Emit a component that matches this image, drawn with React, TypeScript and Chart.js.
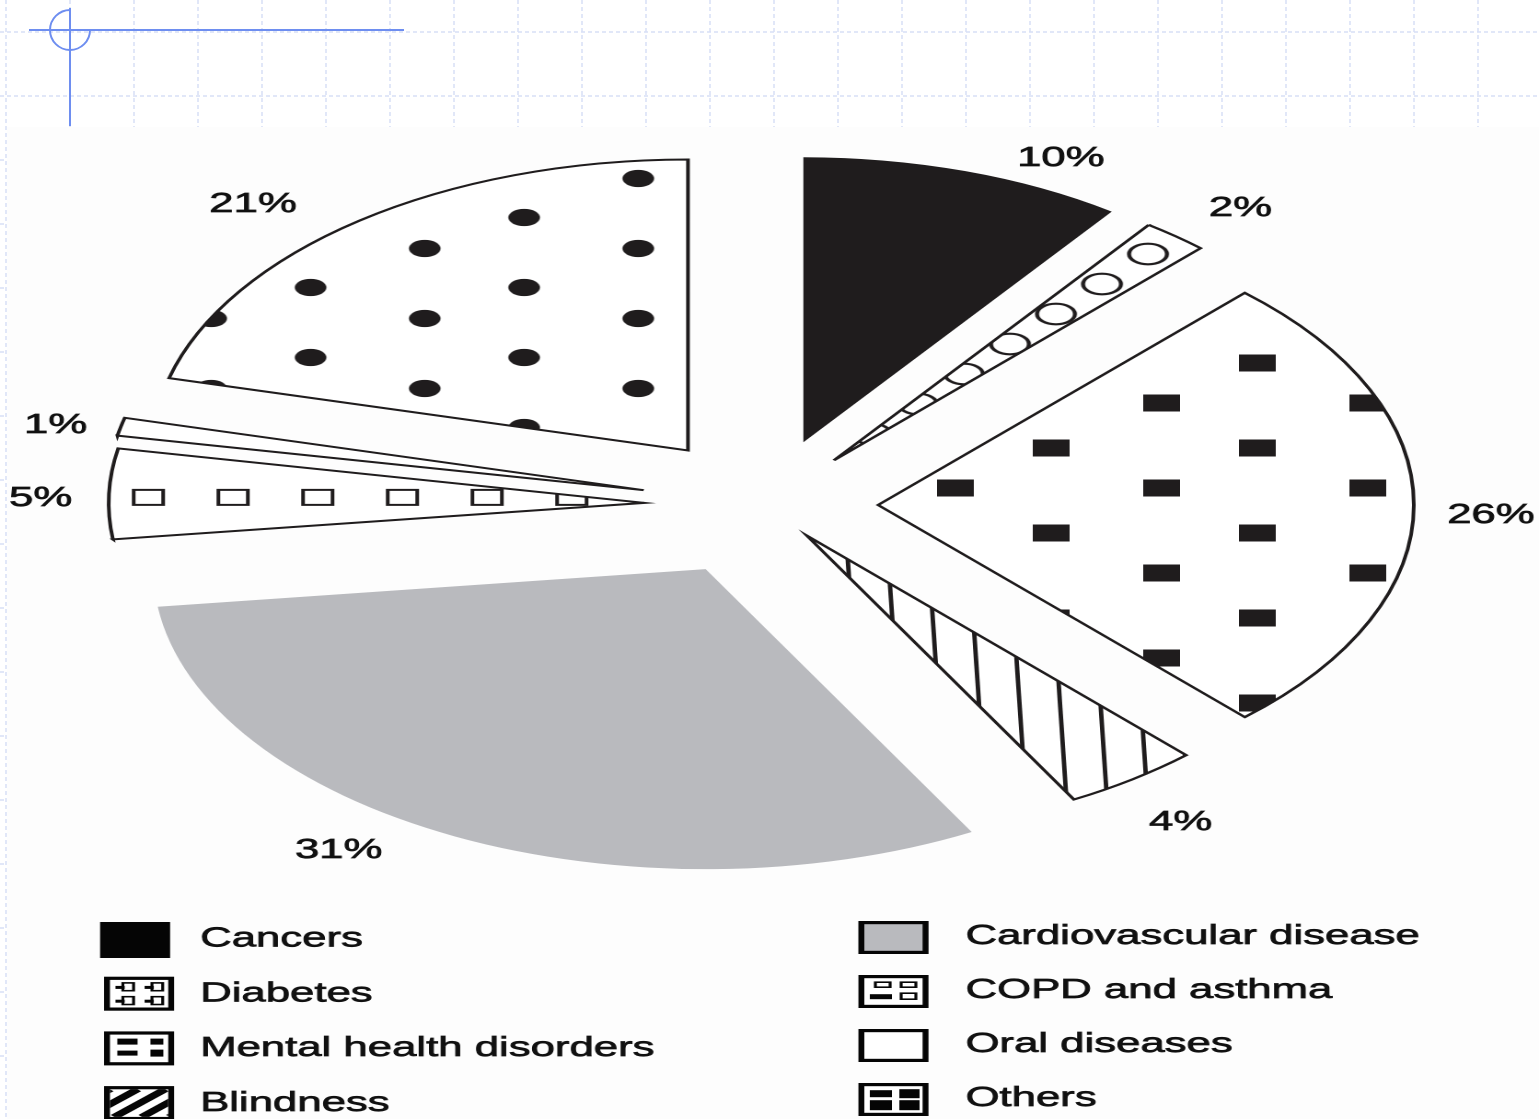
import React, { useEffect, useRef } from 'react';
import { Chart, registerables } from 'chart.js';

Chart.register(...registerables);

// ---------------- data ----------------
const CATEGORIES = [
  'Cancers',
  'Diabetes',
  'Mental health disorders',
  'Blindness',
  'Cardiovascular disease',
  'COPD and asthma',
  'Oral diseases',
  'Others',
];
const SHARES = [10, 2, 26, 4, 31, 5, 1, 21];
const LEGEND_LEFT = ['Cancers', 'Diabetes', 'Mental health disorders', 'Blindness'];
const LEGEND_RIGHT = ['Cardiovascular disease', 'COPD and asthma', 'Oral diseases', 'Others'];

// ---------------- layout / style ----------------
const PAGE_W = 1539;
const PAGE_H = 1119;
const STRETCH = 1.84; // the picture is stretched horizontally
const CANVAS_W = Math.round(PAGE_W / STRETCH);
const DPR = 2;
const RADIUS = 291;
const RADIUS_ADJ = [-6, 0, 0, 10, 9, 0, 0, 0];
const EXPLODE = [66, 58, 61, 38, 72, 66, 68, 69];
const LABEL_NUDGE = [6.8, 1.4, 1.5, 0.6, 6.9, -0.8, -0.9, -5];
const LABEL_DIST = [382, 393, 394, 389, 416, 394, 394, 410];
const FONT = "'Liberation Sans', Arial, sans-serif";
const TEXT_SQUEEZE = 0.848;
const INK = '#1f1c1d';
const GRAY = '#b9babe';

type Ctx = CanvasRenderingContext2D;

function makeTile(w: number, h: number, paint: (g: Ctx) => void) {
  const c = document.createElement('canvas');
  c.width = Math.round(w * DPR);
  c.height = Math.round(h * DPR);
  const g = c.getContext('2d') as Ctx;
  g.scale(DPR, DPR);
  g.fillStyle = '#ffffff';
  g.fillRect(0, 0, w, h);
  g.fillStyle = INK;
  g.strokeStyle = INK;
  paint(g);
  return c;
}

function circle(g: Ctx, x: number, y: number, r: number, fill: boolean) {
  g.beginPath();
  g.arc(x, y, r, 0, Math.PI * 2);
  if (fill) g.fill();
  else g.stroke();
}

function makePatterns(ctx: Ctx) {
  const toPat = (c: HTMLCanvasElement) => {
    const p = ctx.createPattern(c, 'repeat') as CanvasPattern;
    p.setTransform(new DOMMatrix([1 / DPR, 0, 0, 1 / DPR, 0, 0]));
    return p;
  };
  const mental = toPat(
    makeTile(112, 85, (g) => {
      g.fillRect(2, 2, 20, 17);
      g.fillRect(54, 47, 20, 17);
    })
  );
  const others = toPat(
    makeTile(116, 70, (g) => {
      circle(g, 10, 10, 8.6, true);
      circle(g, 64, 49, 8.6, true);
    })
  );
  const copd = toPat(
    makeTile(46, 80, (g) => {
      g.lineWidth = 2;
      g.strokeRect(3, 3, 16, 15);
    })
  );
  const diabetes = toPat(
    makeTile(75, 90, (g) => {
      g.lineWidth = 2.2;
      circle(g, 12, 12, 10.3, false);
      circle(g, 37, 72, 10.3, false);
      circle(g, 62, 42, 10.3, false);
    })
  );
  const blind = toPat(
    makeTile(22, 600, (g) => {
      g.lineWidth = 2.4;
      for (const ox of [-22, 0, 22]) {
        g.beginPath();
        g.moveTo(ox, 0);
        g.lineTo(ox + 22, 600);
        g.stroke();
      }
    })
  );
  return { mental, others, copd, diabetes, blind };
}

function setPhase(p: CanvasPattern, tx: number, ty: number) {
  p.setTransform(new DOMMatrix([1 / DPR, 0, 0, 1 / DPR, tx, ty]));
}

function drawSwatch(ctx: Ctx, name: string, x: number, y: number, w: number, h: number) {
  ctx.save();
  if (name === 'Cancers') {
    ctx.fillStyle = '#050505';
    ctx.fillRect(x, y, w, h);
    ctx.restore();
    return;
  }
  const lw = 3.2;
  ctx.fillStyle = name === 'Cardiovascular disease' ? GRAY : '#ffffff';
  ctx.fillRect(x, y, w, h);
  ctx.fillStyle = '#050505';
  ctx.strokeStyle = '#050505';
  const ix = x + lw;
  const iy = y + lw;
  const iw = w - 2 * lw;
  const ih = h - 2 * lw;
  if (name === 'Diabetes') {
    ctx.lineWidth = 1.6;
    for (const [cx, cy] of [[0, 0], [1, 0], [0, 1], [1, 1]]) {
      const bx = ix + 3 + cx * (iw / 2);
      const by = iy + 3 + cy * (ih / 2);
      ctx.strokeRect(bx + 4, by, iw / 2 - 10, ih / 2 - 6);
      ctx.fillRect(bx, by + 3, 5, 3);
    }
  } else if (name === 'COPD and asthma') {
    ctx.lineWidth = 1.6;
    ctx.strokeRect(ix + 6, iy + 4, 8, 5);
    ctx.strokeRect(ix + 20, iy + 4, 8, 5);
    ctx.fillRect(ix + 3, iy + 16, 12, 5);
    ctx.strokeRect(ix + 20, iy + 15, 8, 6);
  } else if (name === 'Mental health disorders') {
    ctx.fillRect(ix + 4, iy + 4, 11, 6);
    ctx.fillRect(ix + 22, iy + 4, 7, 6);
    ctx.fillRect(ix + 4, iy + 16, 11, 5);
    ctx.fillRect(ix + 22, iy + 15, 7, 7);
  } else if (name === 'Others') {
    ctx.fillRect(ix + 3, iy + 4, 12, 7);
    ctx.fillRect(ix + 19, iy + 3, 11, 9);
    ctx.fillRect(ix + 3, iy + 14, 12, 10);
    ctx.fillRect(ix + 19, iy + 14, 11, 10);
  } else if (name === 'Blindness') {
    ctx.save();
    ctx.beginPath();
    ctx.rect(ix, iy, iw, ih);
    ctx.clip();
    ctx.lineWidth = 5.5;
    for (let k = -ih; k < iw + ih; k += 15) {
      ctx.beginPath();
      ctx.moveTo(ix + k, iy + ih);
      ctx.lineTo(ix + k + ih, iy);
      ctx.stroke();
    }
    ctx.restore();
  }
  ctx.lineWidth = lw;
  ctx.strokeRect(x + lw / 2, y + lw / 2, w - lw, h - lw);
  ctx.restore();
}

function drawText(ctx: Ctx, text: string, x: number, y: number, align: CanvasTextAlign) {
  ctx.save();
  ctx.translate(x, y);
  ctx.scale(TEXT_SQUEEZE, 1);
  ctx.textAlign = align;
  ctx.textBaseline = 'middle';
  ctx.fillText(text, 0, 0);
  ctx.lineWidth = 0.7;
  ctx.strokeStyle = ctx.fillStyle;
  ctx.strokeText(text, 0, 0);
  ctx.restore();
}

function Backdrop() {
  const xs: number[] = [];
  for (let x = 6; x < PAGE_W; x += 64) xs.push(x);
  const ys: number[] = [];
  for (let y = 32; y < PAGE_H; y += 64) ys.push(y);
  const grid = '#d8e0f6';
  const blue = '#6e8ef0';
  return (
    <svg width={PAGE_W} height={PAGE_H} style={{ position: 'absolute', left: 0, top: 0 }}>
      <rect x={0} y={0} width={PAGE_W} height={PAGE_H} fill="#ffffff" />
      {xs.map((x) => (
        <line key={'x' + x} x1={x} y1={0} x2={x} y2={PAGE_H} stroke={grid} strokeWidth={1.5} strokeDasharray="4 3" />
      ))}
      {ys.map((y) => (
        <line key={'y' + y} x1={0} y1={y} x2={PAGE_W} y2={y} stroke={grid} strokeWidth={1.5} strokeDasharray="4 3" />
      ))}
      <rect x={7} y={127} width={PAGE_W - 7} height={PAGE_H - 127} fill="#fdfdfd" />
      <line x1={29} y1={30} x2={404} y2={30} stroke={blue} strokeWidth={2} />
      <line x1={70} y1={8} x2={70} y2={126} stroke={blue} strokeWidth={2} />
      <path d="M 70 10 A 20 20 0 1 0 90 30" fill="none" stroke={blue} strokeWidth={2} />
    </svg>
  );
}

export default function App() {
  const ref = useRef<HTMLCanvasElement>(null);

  useEffect(() => {
    const canvas = ref.current as HTMLCanvasElement;
    const ctx = canvas.getContext('2d') as Ctx;
    const pats = makePatterns(ctx);
    const fills = [INK, pats.diabetes, pats.mental, pats.blind, GRAY, pats.copd, '#ffffff', pats.others];

    const explodePlugin = {
      id: 'explodeSlices',
      afterUpdate(chart: any) {
        const meta = chart.getDatasetMeta(0);
        const { left, right, top, bottom } = chart.chartArea;
        const cx = (left + right) / 2;
        const cy = (top + bottom) / 2;
        chart.$pieCenter = { cx, cy };
        meta.data.forEach((arc: any, i: number) => {
          const mid = (arc.startAngle + arc.endAngle) / 2;
          arc.x = cx + Math.cos(mid) * EXPLODE[i];
          arc.y = cy + Math.sin(mid) * EXPLODE[i];
          arc.outerRadius = arc.outerRadius + RADIUS_ADJ[i];
        });
        const along = (i: number, f: number) => {
          const arc = meta.data[i];
          const mid = (arc.startAngle + arc.endAngle) / 2;
          return { x: arc.x + Math.cos(mid) * arc.outerRadius * f, y: arc.y + Math.sin(mid) * arc.outerRadius * f };
        };
        const pd = along(1, 0.92);
        setPhase(pats.diabetes, pd.x - 12, pd.y - 12);
        const pc = along(5, 0.61);
        setPhase(pats.copd, pc.x - 11, pc.y - 10.5);
        const am = meta.data[2];
        setPhase(pats.mental, am.x + 154 - 12, am.y - 102 - 10.5);
        const ao = meta.data[7];
        setPhase(pats.others, ao.x - 143 - 10, ao.y - 202 - 10);
      },
    };

    const labelPlugin = {
      id: 'sliceLabels',
      afterDatasetsDraw(chart: any) {
        const meta = chart.getDatasetMeta(0);
        const c = chart.ctx as Ctx;
        const { cx, cy } = chart.$pieCenter;
        c.save();
        c.font = `28px ${FONT}`;
        c.fillStyle = '#111111';
        meta.data.forEach((arc: any, i: number) => {
          const a = (arc.startAngle + arc.endAngle) / 2 + (LABEL_NUDGE[i] * Math.PI) / 180;
          const x = cx + Math.cos(a) * LABEL_DIST[i];
          const y = cy + Math.sin(a) * LABEL_DIST[i];
          drawText(c, `${chart.data.datasets[0].data[i]}%`, x, y, 'center');
        });
        c.restore();
      },
    };

    const legendPlugin = {
      id: 'twoColumnLegend',
      afterDraw(chart: any) {
        const c = chart.ctx as Ctx;
        c.save();
        c.font = `28px ${FONT}`;
        c.fillStyle = '#111111';
        const sw = 70 / STRETCH;
        LEGEND_LEFT.forEach((name, r) => {
          const top = 922 + r * 54.7;
          const sx = (name === 'Cancers' ? 100 : 104) / STRETCH;
          drawSwatch(c, name, sx, top, sw, name === 'Cancers' ? 36 : 34);
          c.fillStyle = '#111111';
          drawText(c, name, 200 / STRETCH, top + 17, 'left');
        });
        LEGEND_RIGHT.forEach((name, r) => {
          const top = 921 + r * 54;
          drawSwatch(c, name, 858 / STRETCH, top, sw, 33);
          c.fillStyle = '#111111';
          drawText(c, name, 965 / STRETCH, top + 15.5, 'left');
        });
        c.restore();
      },
    };

    const chart = new Chart(canvas, {
      type: 'pie',
      data: {
        labels: CATEGORIES,
        datasets: [
          {
            data: SHARES,
            backgroundColor: fills as any,
            borderColor: INK,
            borderWidth: [0, 2, 2, 2, 0, 2, 2, 2],
            borderJoinStyle: 'miter',
            offset: 0,
            hoverOffset: 0,
          } as any,
        ],
      },
      options: {
        responsive: false,
        maintainAspectRatio: false,
        devicePixelRatio: DPR,
        animation: false,
        events: [],
        radius: RADIUS,
        layout: { padding: { left: 0, right: 4, top: 0, bottom: 109 } },
        plugins: {
          legend: { display: false },
          tooltip: { enabled: false },
          title: { display: false },
        },
      } as any,
      plugins: [explodePlugin, labelPlugin, legendPlugin],
    });

    return () => chart.destroy();
  }, []);

  return (
    <div
      style={{
        position: 'absolute',
        left: 0,
        top: 0,
        width: PAGE_W,
        height: PAGE_H,
        overflow: 'hidden',
        background: '#ffffff',
      }}
    >
      <Backdrop />
      <canvas
        ref={ref}
        width={CANVAS_W}
        height={PAGE_H}
        style={{ position: 'absolute', left: 0, top: 0, width: `${PAGE_W}px`, height: `${PAGE_H}px` }}
      />
    </div>
  );
}
